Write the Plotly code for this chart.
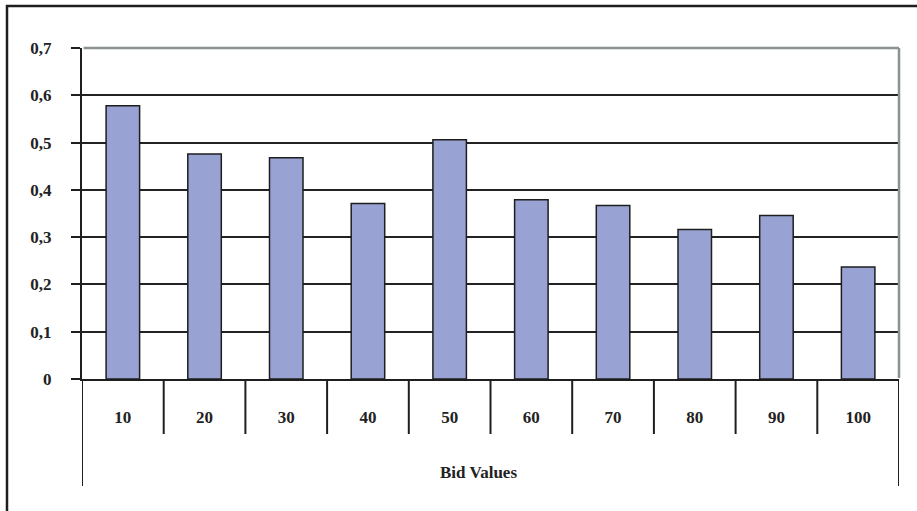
import plotly.graph_objects as go

categories = ["10", "20", "30", "40", "50", "60", "70", "80", "90", "100"]
values = [0.578, 0.476, 0.468, 0.371, 0.506, 0.379, 0.367, 0.316, 0.346, 0.237]
y_tickvals = [0, 0.1, 0.2, 0.3, 0.4, 0.5, 0.6, 0.7]
y_ticktext = ["0", "0,1", "0,2", "0,3", "0,4", "0,5", "0,6", "0,7"]
x_title = "Bid Values"

W, H = 917, 511
L, R, T, B = 82, 18, 48, 132
pw, ph = W - L - R, H - T - B

def px_x(p):
    return (p - L) / pw

def px_y(p):
    return (H - B - p) / ph

font = dict(family="Liberation Serif, Times New Roman, serif", size=17, color="#222222")

fig = go.Figure(go.Bar(
    x=list(range(len(categories))),
    y=values,
    width=0.41,
    marker=dict(color="#99a3d3", line=dict(color="#1e1e1e", width=1.5)),
))

shapes = []
n = len(categories)
for i in range(n + 1):
    outer = i == 0 or i == n
    shapes.append(dict(type="line", xref="x", yref="paper",
                       x0=i - 0.5, x1=i - 0.5, y0=0,
                       y1=px_y(486) if outer else px_y(434),
                       line=dict(color="#1e1e1e", width=2)))
# gray plot-area frame top & right
shapes.append(dict(type="line", xref="paper", yref="paper", x0=0.002, x1=1, y0=1, y1=1,
                   line=dict(color="#8c9294", width=2.5), layer="above"))
shapes.append(dict(type="line", xref="paper", yref="paper", x0=1, x1=1, y0=0.003, y1=1,
                   line=dict(color="#8c9294", width=2.5), layer="above"))
# outer chart border
shapes.append(dict(type="rect", xref="paper", yref="paper",
                   x0=px_x(7), x1=px_x(930), y0=px_y(530), y1=px_y(6),
                   line=dict(color="#1e1e1e", width=2.5)))

fig.update_layout(
    width=W, height=H,
    margin=dict(l=L, r=R, t=T, b=B),
    paper_bgcolor="white", plot_bgcolor="white",
    showlegend=False,
    font=font,
    shapes=shapes,
    annotations=[dict(text="<b>" + x_title + "</b>", xref="paper", yref="paper",
                      x=px_x(478), y=px_y(472), showarrow=False,
                      xanchor="center", yanchor="middle", font=font)],
    xaxis=dict(
        range=[-0.5, n - 0.5],
        tickvals=list(range(n)),
        ticktext=["<b>" + c + "</b>" for c in categories],
        ticks="", showgrid=False, zeroline=False,
        showline=True, linecolor="#1e1e1e", linewidth=2,
        ticklabelstandoff=22,
        tickfont=font,
    ),
    yaxis=dict(
        range=[0, 0.7],
        tickvals=y_tickvals,
        ticktext=["<b>" + t + "</b>" for t in y_ticktext],
        ticks="outside", ticklen=9, tickwidth=2, tickcolor="#1e1e1e",
        showgrid=True, gridcolor="#222222", gridwidth=1.5,
        zeroline=False,
        showline=True, linecolor="#1e1e1e", linewidth=2,
        ticklabelstandoff=16,
        tickfont=font,
    ),
)

fig.write_html("out.html")
